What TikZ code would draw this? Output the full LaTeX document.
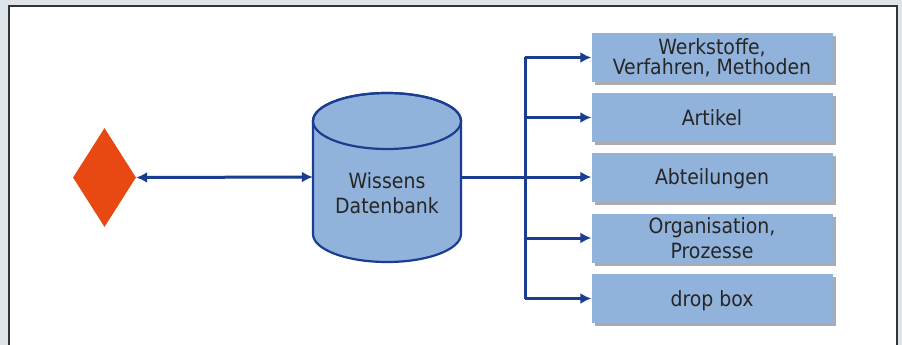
\documentclass[tikz,border=0pt]{standalone}
\usepackage{fontspec}
\setmainfont{DejaVu Sans Condensed}
\usetikzlibrary{shapes.geometric,arrows.meta,shadows}
\definecolor{boxblue}{RGB}{145,179,219}
\definecolor{linkblue}{RGB}{26,60,145}
\definecolor{gemred}{RGB}{232,72,18}
\definecolor{panelgray}{RGB}{223,228,232}
\definecolor{inkgray}{RGB}{38,38,38}
\tikzset{
  link/.style={draw=linkblue,line width=3pt},
  tip/.tip={Latex[length=11pt,width=11pt]},
  topic/.style={fill=boxblue,minimum width=241pt,minimum height=49pt,inner sep=0pt,
    align=center,text=inkgray,font=\fontsize{21}{20}\selectfont,
    drop shadow={shadow xshift=3pt,shadow yshift=-3pt,fill=black!55,opacity=.6}},
}
\begin{document}
\begin{tikzpicture}[x=1pt,y=1pt]
        \useasboundingbox (0,0) rectangle (902,-345);
        % frame
        \fill [panelgray] (0,0) rectangle (902,-345);
        \fill [white] (9,-6) rectangle (897,-345);
        \draw [black!80,line width=1.5pt] (9,-345) -- (9,-6) -- (897,-6) -- (897,-345);
        % source
        \node [diamond,fill=gemred,minimum width=63pt,minimum height=99pt,inner sep=0pt] (gem) at (104.5,-177.5) {};
        % database
        \filldraw [fill=boxblue,draw=linkblue,line width=2.2pt] (313,-121) -- (313,-234) arc (180:360:74 and 28) -- (461,-121) arc (0:180:74 and 28) -- cycle;
        \draw [linkblue,line width=2.2pt] (387,-121) ellipse (74 and 28);
        \node [minimum width=148pt,minimum height=100pt,inner sep=0pt] (db) at (387,-177) {};
        \node [align=center,text=inkgray,font=\fontsize{21}{25}\selectfont] (dbtext) at (387,-193) {Wissens\\Datenbank};
        % topics
        \node [topic] (b1) at (712,-57.5) {Werkstoffe,\\Verfahren, Methoden};
        \node [topic,text height=15pt,text depth=0pt] (b2) at (712,-117.5) {Artikel};
        \node [topic,text height=15pt,text depth=0pt] (b3) at (712,-177) {Abteilungen};
        \node [topic,font=\fontsize{21}{25}\selectfont] (b4) at (712,-238) {Organisation,\\Prozesse};
        \node [topic,text height=15pt,text depth=0pt] (b5) at (712,-298.5) {drop box};
        % links
        \coordinate (split) at (525,-177);
        \draw [link,tip-tip] (gem.east) -- (db.west);
        \draw [link,-tip] (db.east) -- (b3.west);
        \draw [link] (split |- b1.west) -- (split |- b5.west);
        \foreach \i in {1,2,4,5}
          \draw [link,-tip] (split |- b\i.west) -- (b\i.west);
\end{tikzpicture}
\end{document}
